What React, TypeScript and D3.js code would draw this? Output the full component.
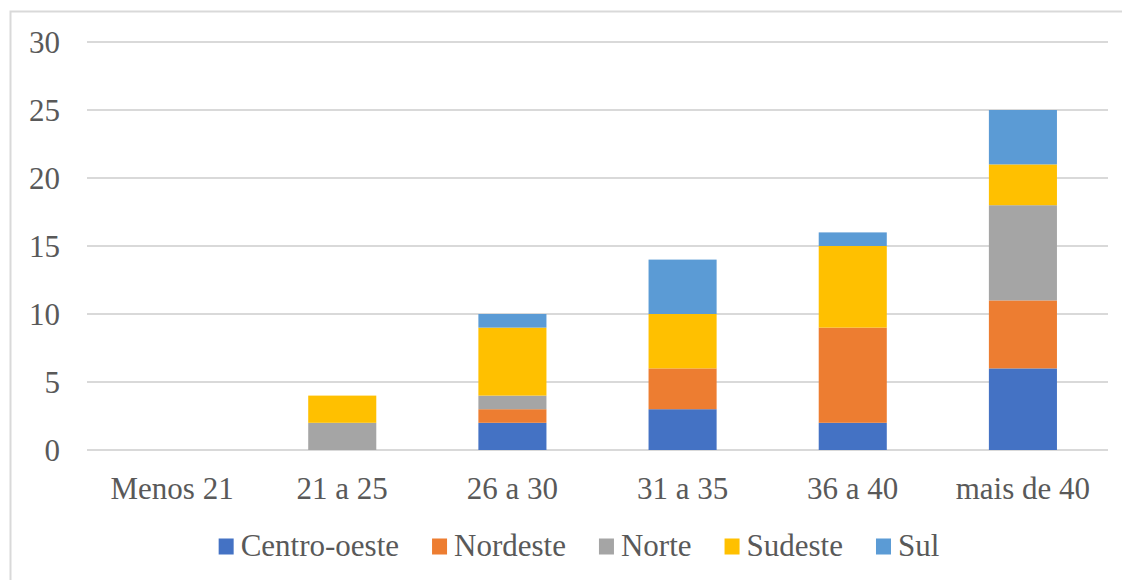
import React, { useEffect, useRef } from "react";
import * as d3 from "d3";

const categories = ["Menos 21", "21 a 25", "26 a 30", "31 a 35", "36 a 40", "mais de 40"];
const seriesNames = ["Centro-oeste", "Nordeste", "Norte", "Sudeste", "Sul"];
const centroOeste = [0, 0, 2, 3, 2, 6];
const nordeste = [0, 0, 1, 3, 7, 5];
const norte = [0, 2, 1, 0, 0, 7];
const sudeste = [0, 2, 5, 4, 6, 3];
const sul = [0, 0, 1, 4, 1, 4];
const yTicks = [0, 5, 10, 15, 20, 25, 30];
const colors = ["#4472C4", "#ED7D31", "#A5A5A5", "#FFC000", "#5B9BD5"];

const W = 1122;
const H = 580;
const FONT = "'Liberation Serif', 'Times New Roman', serif";

export default function App() {
  const ref = useRef<SVGSVGElement>(null);

  useEffect(() => {
    const svg = d3.select(ref.current);
    svg.selectAll("*").remove();

    const values = [centroOeste, nordeste, norte, sudeste, sul];
    const rows = categories.map((c, i) => {
      const r: any = { cat: c };
      seriesNames.forEach((s, j) => (r[s] = values[j][i]));
      return r;
    });
    const stacked = d3.stack().keys(seriesNames)(rows);

    const x = d3.scaleBand().domain(categories).range([87, 1108]).paddingInner(0.6).paddingOuter(0.3);
    const y = d3.scaleLinear().domain([0, 30]).range([450, 42]);

    // frame (only left and top edges are visible in the crop)
    svg.append("rect").attr("x", 10.5).attr("y", 11.5).attr("width", 1130).attr("height", 600)
      .attr("fill", "#fff").attr("stroke", "#d9d9d9").attr("stroke-width", 2);

    // gridlines
    svg.append("g").selectAll("line").data(yTicks).join("line")
      .attr("x1", 87).attr("x2", 1108)
      .attr("y1", (d) => y(d)).attr("y2", (d) => y(d))
      .attr("stroke", "#d9d9d9").attr("stroke-width", 1.8);

    // y labels
    svg.append("g").selectAll("text").data(yTicks).join("text")
      .attr("x", 60).attr("y", (d) => y(d)).attr("dy", "0.35em")
      .attr("text-anchor", "end").attr("font-family", FONT).attr("font-size", 31)
      .attr("fill", "#595959").text((d) => String(d));

    // bars
    const g = svg.append("g");
    stacked.forEach((layer, li) => {
      g.append("g").attr("fill", colors[li]).selectAll("rect").data(layer).join("rect")
        .attr("x", (d: any) => x(d.data.cat)!)
        .attr("width", x.bandwidth())
        .attr("y", (d: any) => y(d[1]))
        .attr("height", (d: any) => y(d[0]) - y(d[1]));
    });

    // category labels
    svg.append("g").selectAll("text").data(categories).join("text")
      .attr("x", (d) => x(d)! + x.bandwidth() / 2).attr("y", 499)
      .attr("text-anchor", "middle").attr("font-family", FONT).attr("font-size", 31)
      .attr("fill", "#595959").text((d) => d);

    // legend
    const lg = svg.append("g");
    const items = seriesNames.map((s, i) => {
      const it = lg.append("g");
      it.append("rect").attr("width", 15).attr("height", 16).attr("y", 538.5).attr("fill", colors[i]);
      const t = it.append("text").attr("x", 22).attr("y", 556).attr("font-family", FONT)
        .attr("font-size", 31).attr("fill", "#595959").text(s);
      const w = (t.node() as SVGTextElement).getComputedTextLength();
      return { it, w: 22 + w };
    });
    const gap = 33;
    const total = items.reduce((a, b) => a + b.w, 0) + gap * (items.length - 1);
    let cx = 579 - total / 2;
    items.forEach((o) => {
      o.it.attr("transform", `translate(${cx},0)`);
      cx += o.w + gap;
    });
  }, []);

  return (
    <svg ref={ref} width={W} height={H} style={{ position: "absolute", left: 0, top: 0 }} />
  );
}
